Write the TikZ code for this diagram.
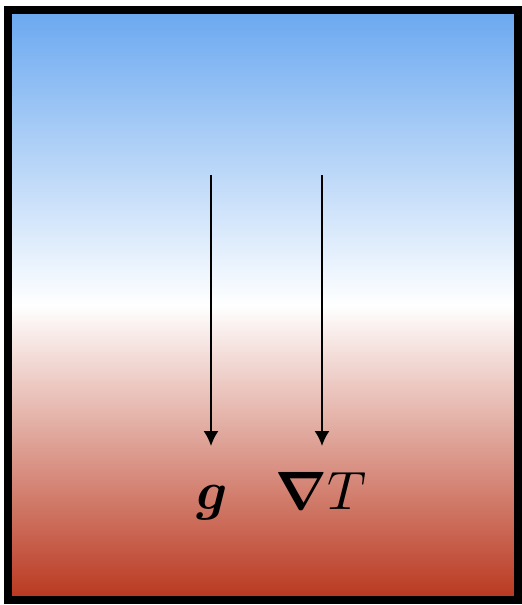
\documentclass[tikz,border=0pt]{standalone}
\usepackage{amsmath,bm}
\usetikzlibrary{arrows.meta,positioning}
\definecolor{topblue}{RGB}{106,168,240}
\definecolor{bottomred}{RGB}{185,55,30}

\begin{document}
\begin{tikzpicture}[x=1pt, y=-1pt, >={Latex[length=15pt,width=15pt]}, line width=1.8pt]
            \useasboundingbox (0,0) rectangle (522,605);
            \shade[top color=topblue, bottom color=bottomred, middle color=white] (8,10) rectangle (518,600);
            \draw[line width=8pt] (8,10) rectangle (518,600);

            \node[anchor=base, scale=5.4] (g) at (212,509) {$\bm{g}$};
            \node[anchor=base, scale=5.4] (gradT) at (321,509) {$\bm{\nabla} T$};

            \coordinate (gtail) at (211,175);
            \coordinate (ghead) at (211,446);
            \coordinate (Ttail) at (322,175);
            \coordinate (Thead) at (322,446);

            \draw[->] (gtail) -- (ghead);
            \draw[->] (Ttail) -- (Thead);
        \end{tikzpicture}
\end{document}
